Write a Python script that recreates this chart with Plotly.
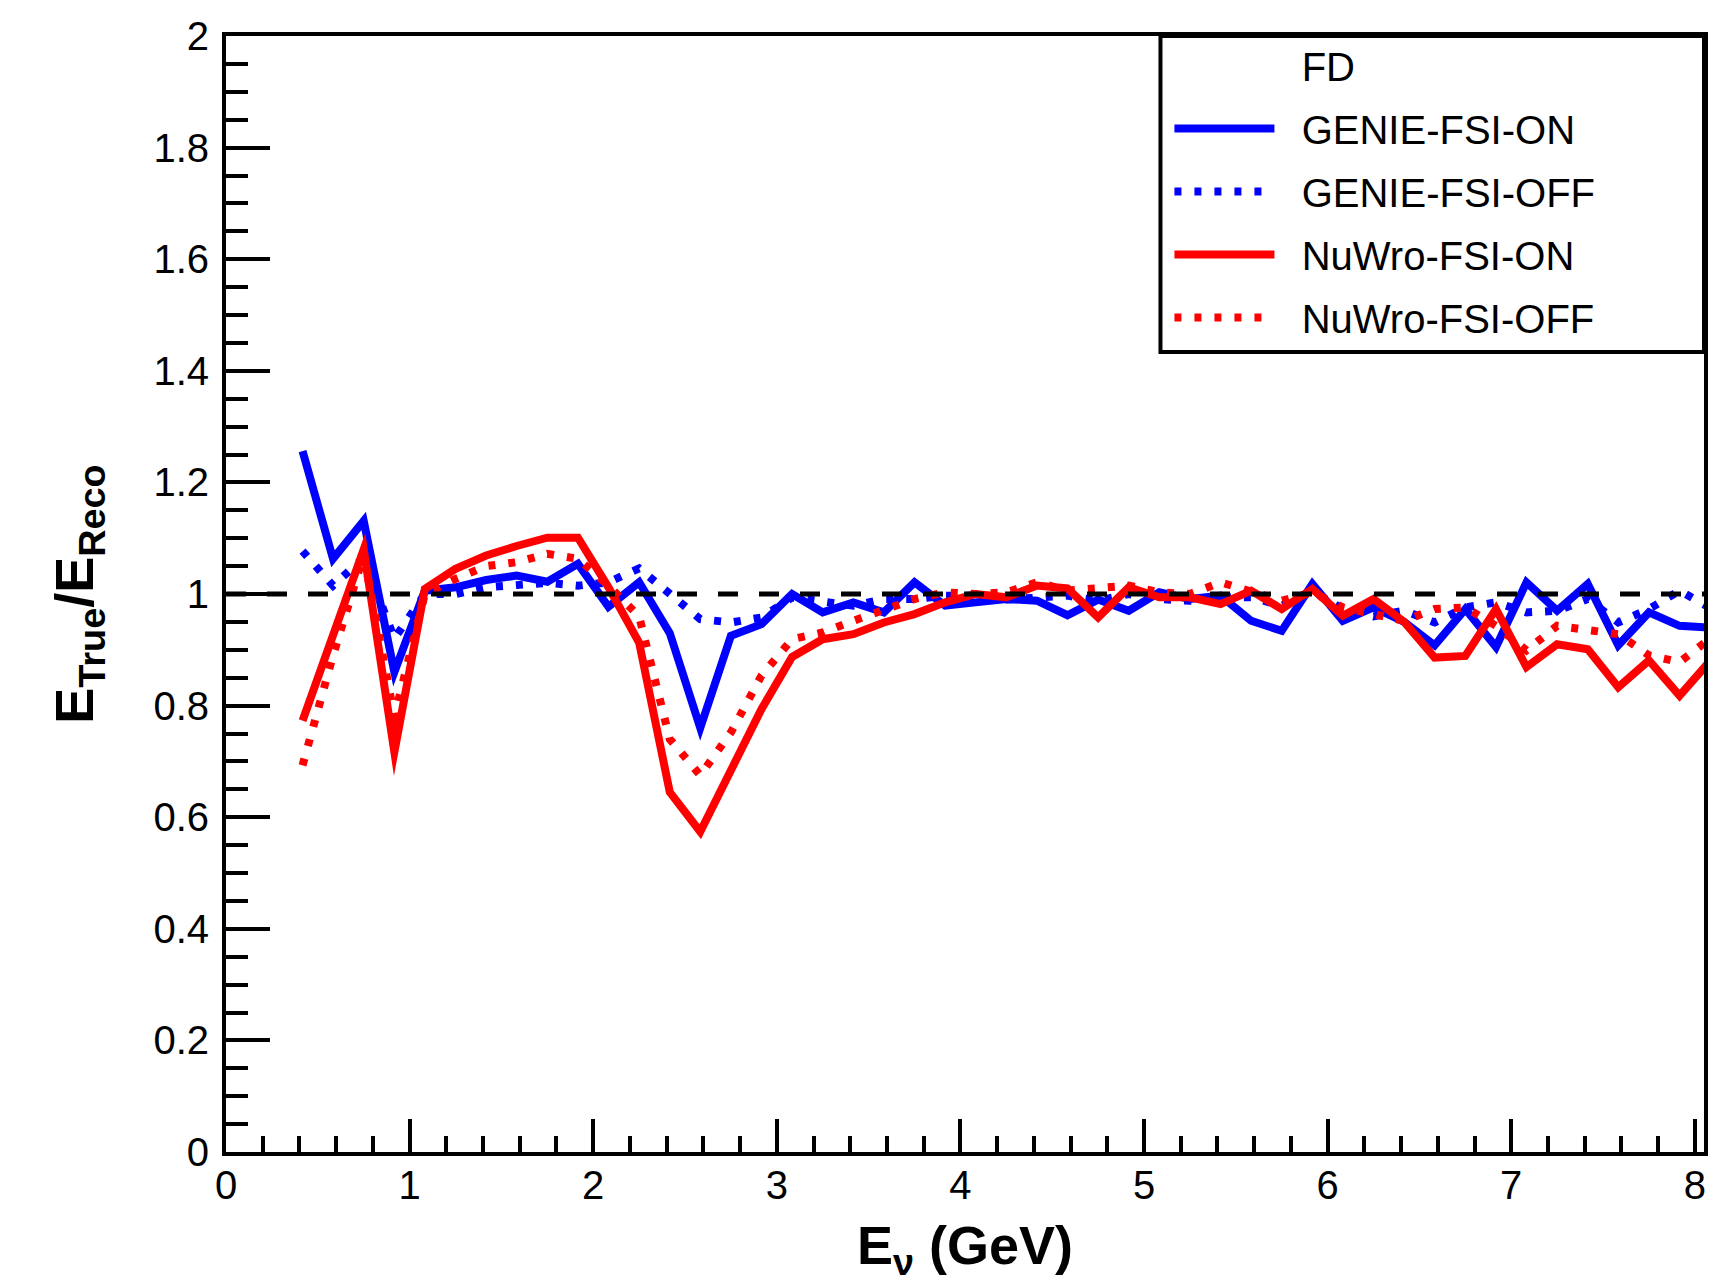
import plotly.graph_objects as go

# Bin centres (GeV)
energy = [0.417, 0.583, 0.75, 0.917, 1.083, 1.25, 1.417, 1.583, 1.75, 1.917,
          2.083, 2.25, 2.417, 2.583, 2.75, 2.917, 3.083, 3.25, 3.417, 3.583,
          3.75, 3.917, 4.083, 4.25, 4.417, 4.583, 4.75, 4.917, 5.083, 5.25,
          5.417, 5.583, 5.75, 5.917, 6.083, 6.25, 6.417, 6.583, 6.75, 6.917,
          7.083, 7.25, 7.417, 7.583, 7.75, 7.917, 8.083]

genie_fsi_on = [1.256, 1.063, 1.131, 0.86, 1.006, 1.012, 1.025, 1.033, 1.022, 1.054,
                0.977, 1.021, 0.93, 0.76, 0.925, 0.946, 1.0, 0.967, 0.985, 0.967,
                1.021, 0.979, 0.985, 0.991, 0.988, 0.962, 0.99, 0.970, 1.003, 0.991,
                0.997, 0.952, 0.934, 1.018, 0.952, 0.976, 0.95, 0.908, 0.973, 0.905,
                1.021, 0.970, 1.018, 0.908, 0.967, 0.943, 0.94]

genie_fsi_off = [1.077, 1.015, 1.065, 0.92, 1.0, 1.0, 1.012, 1.015, 1.02, 1.015,
                 1.021, 1.046, 1.0, 0.955, 0.949, 0.958, 0.994, 0.985, 0.979, 0.991,
                 0.991, 0.997, 0.997, 0.99, 0.995, 0.997, 0.988, 1.0, 0.991, 0.988,
                 0.994, 0.994, 0.979, 1.006, 0.973, 0.96, 0.97, 0.949, 0.976, 0.985,
                 0.967, 0.97, 0.991, 0.949, 0.973, 1.006, 0.975]

nuwro_fsi_on = [0.773, 0.931, 1.08, 0.717, 1.009, 1.045, 1.069, 1.086, 1.101, 1.101,
                1.012, 0.913, 0.645, 0.574, 0.684, 0.794, 0.887, 0.919, 0.928, 0.949,
                0.964, 0.985, 1.0, 0.994, 1.015, 1.01, 0.958, 1.012, 0.994, 0.994,
                0.982, 1.006, 0.973, 1.009, 0.961, 0.991, 0.95, 0.886, 0.889, 0.973,
                0.869, 0.91, 0.901, 0.833, 0.881, 0.818, 0.88]

nuwro_fsi_off = [0.693, 0.89, 1.07, 0.78, 1.0, 1.027, 1.05, 1.057, 1.072, 1.063,
                 1.015, 0.96, 0.74, 0.675, 0.752, 0.854, 0.919, 0.931, 0.952, 0.973,
                 0.991, 1.003, 1.0, 1.003, 1.021, 1.006, 1.009, 1.015, 1.003, 1.0,
                 1.021, 1.006, 0.988, 1.003, 0.976, 0.964, 0.952, 0.973, 0.976, 0.943,
                 0.899, 0.943, 0.934, 0.928, 0.89, 0.878, 0.92]

ref_x = [0.0, 8.05]
ref_y = [1.0, 1.0]

x_range = [0, 8.05]
y_range = [0, 2]

FONT = "Liberation Sans, Arial, Helvetica, sans-serif"
BLUE = "#0000ff"
RED = "#ff0000"
DOT = "7px,13px"
LW = 8
PAD = "\u00a0\u00a0"

fig = go.Figure()

fig.add_trace(go.Scatter(x=[None], y=[None], mode="lines", name=PAD + "FD",
                         line=dict(color="rgba(0,0,0,0)", width=LW),
                         legendgroup="g0"))
fig.add_trace(go.Scatter(x=energy, y=genie_fsi_on, mode="lines", name=PAD + "GENIE-FSI-ON",
                         line=dict(color=BLUE, width=LW), legendgroup="g1"))
fig.add_trace(go.Scatter(x=energy, y=genie_fsi_off, mode="lines", name=PAD + "GENIE-FSI-OFF",
                         line=dict(color=BLUE, width=LW, dash=DOT), legendgroup="g2"))
fig.add_trace(go.Scatter(x=energy, y=nuwro_fsi_on, mode="lines", name=PAD + "NuWro-FSI-ON",
                         line=dict(color=RED, width=LW), legendgroup="g3"))
fig.add_trace(go.Scatter(x=energy, y=nuwro_fsi_off, mode="lines", name=PAD + "NuWro-FSI-OFF",
                         line=dict(color=RED, width=LW, dash=DOT), legendgroup="g4"))
fig.add_trace(go.Scatter(x=ref_x, y=ref_y, mode="lines", showlegend=False,
                         line=dict(color="black", width=5, dash="20px,21px")))

L, R, T, B = 226, 1715 - 1708, 36, 1283 - 1152
PW, PH = 1715 - L - R, 1283 - T - B

fig.update_layout(
    width=1715, height=1283,
    margin=dict(l=L, r=R, t=T, b=B, pad=0),
    paper_bgcolor="white", plot_bgcolor="white",
    font=dict(family=FONT, color="black", size=40),
    showlegend=True,
    legend=dict(
        x=(1172 - L) / PW, y=1.0 + 3 / PH, xanchor="left", yanchor="top",
        bgcolor="rgba(0,0,0,0)", borderwidth=0,
        font=dict(family=FONT, size=40, color="black"),
        itemwidth=100, tracegroupgap=8,
    ),
    shapes=[dict(type="rect", xref="paper", yref="paper",
                 x0=(1163 - L) / PW, x1=1.0,
                 y0=1 - (352 - T) / PH, y1=1.0,
                 line=dict(color="black", width=4), fillcolor="rgba(0,0,0,0)",
                 layer="above")],
)

fig.update_xaxes(
    range=x_range, showgrid=False, zeroline=False,
    showline=True, linecolor="black", linewidth=4, mirror=True,
    ticks="inside", ticklen=33, tickwidth=4, tickcolor="black", dtick=1, tick0=0,
    tickfont=dict(family=FONT, size=40, color="black"),
    ticklabelstandoff=-5,
    minor=dict(ticks="inside", ticklen=16, tickwidth=4, tickcolor="black", dtick=0.2, showgrid=False),
    title=dict(text="<b>E<sub>ν</sub> (GeV)</b>", font=dict(family=FONT, size=54, color="black"), standoff=28),
)
fig.update_yaxes(
    range=y_range, showgrid=False, zeroline=False,
    showline=True, linecolor="black", linewidth=4, mirror=True,
    ticks="inside", ticklen=44, tickwidth=4, tickcolor="black", dtick=0.2, tick0=0,
    tickfont=dict(family=FONT, size=40, color="black"),
    ticklabelstandoff=5,
    minor=dict(ticks="inside", ticklen=22, tickwidth=4, tickcolor="black", dtick=0.05, showgrid=False),
    title=dict(text="<b>E<sub>True</sub>/E<sub>Reco</sub></b>", font=dict(family=FONT, size=54, color="black"), standoff=43),
)

post = (
    "document.body.style.margin='0';"
    "var s=document.createElement('style');"
    "s.textContent='.scatterlayer .js-line{stroke-miterlimit:20;stroke-linejoin:miter}';"
    "document.head.appendChild(s);"
)

fig.write_html("out.html", config={"displayModeBar": False}, post_script=post)
